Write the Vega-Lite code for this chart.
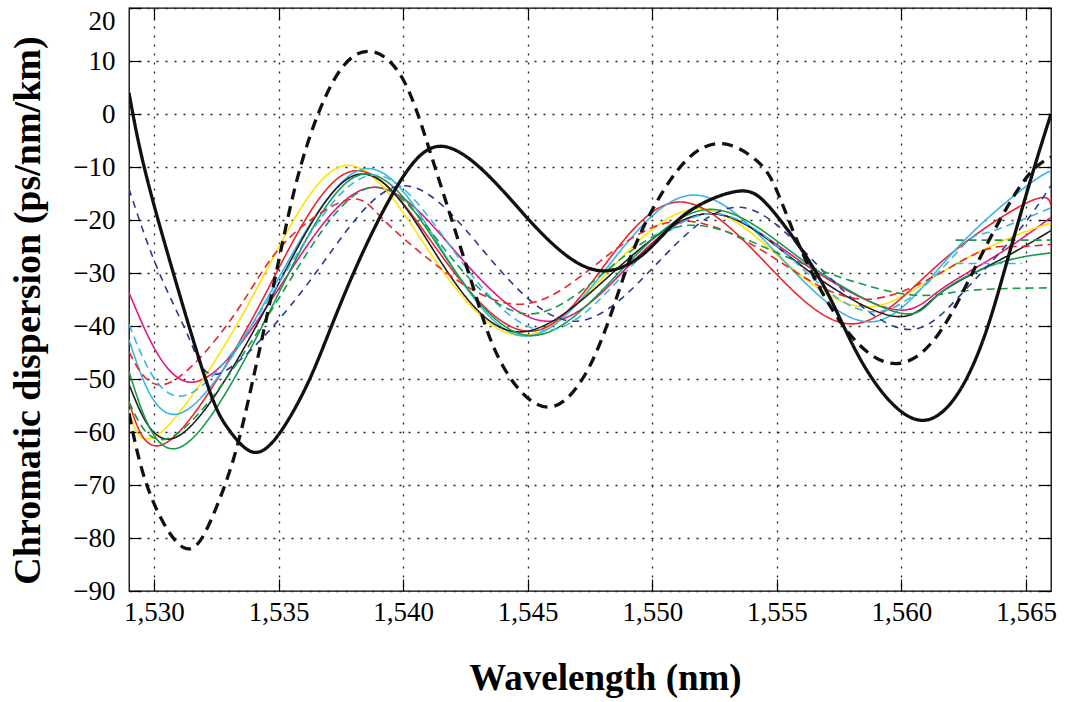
{
  "$schema": "https://vega.github.io/schema/vega-lite/v6.json",
  "width": 922,
  "height": 583,
  "autosize": {"type": "none"},
  "padding": {"left": 129, "top": 8, "right": 19, "bottom": 111},
  "background": "white",
  "config": {
    "view": {"stroke": "#000", "strokeWidth": 1.3},
    "font": "Liberation Serif"
  },
  "datasets": {
    "thin": [
      {"s":"magenta","x":1529.0,"y":-33.7},{"s":"magenta","x":1531.55,"y":-50.6},{"s":"magenta","x":1535.1,"y":-32.3},{"s":"magenta","x":1538.66,"y":-13.9},{"s":"magenta","x":1542.2,"y":-26.5},{"s":"magenta","x":1545.74,"y":-39.1},{"s":"magenta","x":1549.0,"y":-28.9},{"s":"magenta","x":1552.28,"y":-18.8},{"s":"magenta","x":1555.95,"y":-27.8},{"s":"magenta","x":1559.62,"y":-36.8},{"s":"magenta","x":1561.5,"y":-33.4},{"s":"magenta","x":1563.8,"y":-26.7},{"s":"magenta","x":1566.0,"y":-19.5},
      {"s":"yellow","x":1529.0,"y":-55.8},{"s":"yellow","x":1530.3,"y":-60.0},{"s":"yellow","x":1533.95,"y":-34.5},{"s":"yellow","x":1537.59,"y":-9.8},{"s":"yellow","x":1541.13,"y":-26.5},{"s":"yellow","x":1544.67,"y":-41.8},{"s":"yellow","x":1548.2,"y":-29.9},{"s":"yellow","x":1551.75,"y":-17.9},{"s":"yellow","x":1555.15,"y":-27.2},{"s":"yellow","x":1558.56,"y":-36.4},{"s":"yellow","x":1562.0,"y":-28.8},{"s":"yellow","x":1565.5,"y":-21.3},{"s":"yellow","x":1566.0,"y":-21.4},
      {"s":"red","x":1529.0,"y":-54.3},{"s":"red","x":1530.57,"y":-61.8},{"s":"red","x":1534.2,"y":-36.4},{"s":"red","x":1537.86,"y":-10.9},{"s":"red","x":1541.43,"y":-26.0},{"s":"red","x":1545.0,"y":-41.0},{"s":"red","x":1548.04,"y":-28.8},{"s":"red","x":1551.08,"y":-16.6},{"s":"red","x":1554.55,"y":-28.1},{"s":"red","x":1558.03,"y":-39.6},{"s":"red","x":1561.55,"y":-28.1},{"s":"red","x":1565.1,"y":-16.6},{"s":"red","x":1566.0,"y":-17.2},
      {"s":"cyan","x":1529.0,"y":-42.6},{"s":"cyan","x":1531.04,"y":-56.5},{"s":"cyan","x":1534.7,"y":-33.5},{"s":"cyan","x":1538.39,"y":-10.4},{"s":"cyan","x":1541.63,"y":-26.2},{"s":"cyan","x":1544.87,"y":-41.9},{"s":"cyan","x":1548.25,"y":-28.6},{"s":"cyan","x":1551.62,"y":-15.3},{"s":"cyan","x":1555.2,"y":-27.3},{"s":"cyan","x":1558.83,"y":-39.2},{"s":"cyan","x":1562.17,"y":-25.6},{"s":"cyan","x":1565.5,"y":-12.0},{"s":"cyan","x":1566.0,"y":-12.1},
      {"s":"black","x":1529.0,"y":-51.0},{"s":"black","x":1530.97,"y":-60.8},{"s":"black","x":1534.55,"y":-36.1},{"s":"black","x":1538.1,"y":-11.5},{"s":"black","x":1541.3,"y":-26.3},{"s":"black","x":1544.54,"y":-41.1},{"s":"black","x":1548.4,"y":-30.0},{"s":"black","x":1552.28,"y":-18.8},{"s":"black","x":1555.95,"y":-28.5},{"s":"black","x":1559.62,"y":-38.1},{"s":"black","x":1561.5,"y":-34.0},{"s":"black","x":1563.8,"y":-27.9},{"s":"black","x":1566.0,"y":-22.0},
      {"s":"green","x":1529.0,"y":-48.6},{"s":"green","x":1531.04,"y":-62.9},{"s":"green","x":1534.65,"y":-37.2},{"s":"green","x":1538.26,"y":-11.5},{"s":"green","x":1541.66,"y":-26.7},{"s":"green","x":1545.07,"y":-41.8},{"s":"green","x":1548.67,"y":-29.9},{"s":"green","x":1552.28,"y":-18.0},{"s":"green","x":1556.1,"y":-27.8},{"s":"green","x":1559.9,"y":-37.5},{"s":"green","x":1561.5,"y":-34.0},{"s":"green","x":1563.78,"y":-28.3},{"s":"green","x":1566.0,"y":-26.2},
      {"s":"darkblue","x":1529.0,"y":-14.1},{"s":"darkblue","x":1530.17,"y":-29.5},{"s":"darkblue","x":1531.5,"y":-43.3},{"s":"darkblue","x":1532.85,"y":-48.5},{"s":"darkblue","x":1536.35,"y":-30.9},{"s":"darkblue","x":1539.86,"y":-13.6},{"s":"darkblue","x":1543.33,"y":-26.4},{"s":"darkblue","x":1546.8,"y":-39.1},{"s":"darkblue","x":1550.15,"y":-28.4},{"s":"darkblue","x":1553.49,"y":-17.6},{"s":"darkblue","x":1556.75,"y":-29.1},{"s":"darkblue","x":1560.0,"y":-40.5},{"s":"darkblue","x":1562.3,"y":-34.5},{"s":"darkblue","x":1564.6,"y":-22.6},{"s":"darkblue","x":1566.0,"y":-13.5},
      {"s":"reddash","x":1529.0,"y":-44.9},{"s":"reddash","x":1530.57,"y":-50.8},{"s":"reddash","x":1533.25,"y":-37.7},{"s":"reddash","x":1535.2,"y":-24.5},{"s":"reddash","x":1537.7,"y":-16.3},{"s":"reddash","x":1539.1,"y":-19.4},{"s":"reddash","x":1541.33,"y":-28.5},{"s":"reddash","x":1544.67,"y":-35.9},{"s":"reddash","x":1547.9,"y":-27.8},{"s":"reddash","x":1551.2,"y":-20.2},{"s":"reddash","x":1555.0,"y":-27.5},{"s":"reddash","x":1558.8,"y":-34.9},{"s":"reddash","x":1562.7,"y":-27.0},{"s":"reddash","x":1564.5,"y":-25.0},{"s":"reddash","x":1566.0,"y":-24.6},
      {"s":"cyandash","x":1529.0,"y":-39.7},{"s":"cyandash","x":1531.24,"y":-53.1},{"s":"cyandash","x":1534.95,"y":-32.4},{"s":"cyandash","x":1538.66,"y":-11.6},{"s":"cyandash","x":1542.1,"y":-26.3},{"s":"cyandash","x":1545.6,"y":-40.8},{"s":"cyandash","x":1548.95,"y":-29.8},{"s":"cyandash","x":1552.3,"y":-18.8},{"s":"cyandash","x":1555.75,"y":-28.0},{"s":"cyandash","x":1559.2,"y":-37.2},{"s":"cyandash","x":1562.3,"y":-25.7},{"s":"cyandash","x":1563.5,"y":-22.3},{"s":"cyandash","x":1566.0,"y":-17.7},
      {"s":"greendash","x":1529.0,"y":-54.3},{"s":"greendash","x":1530.84,"y":-60.6},{"s":"greendash","x":1534.68,"y":-37.3},{"s":"greendash","x":1538.52,"y":-14.1},{"s":"greendash","x":1541.73,"y":-25.9},{"s":"greendash","x":1544.94,"y":-37.7},{"s":"greendash","x":1548.2,"y":-29.4},{"s":"greendash","x":1551.47,"y":-21.0},{"s":"greendash","x":1555.4,"y":-27.0},{"s":"greendash","x":1559.9,"y":-33.8},{"s":"greendash","x":1562.5,"y":-33.4},{"s":"greendash","x":1566.0,"y":-32.8},
      {"s":"seg1","x":1562.17,"y":-23.8},{"s":"seg1","x":1566.0,"y":-23.8},
      {"s":"seg2","x":1562.17,"y":-28.2},{"s":"seg2","x":1564.84,"y":-28.2}
    ],
    "thick": [
      {"s":"thick","x":1529.0,"y":4.0},{"s":"thick","x":1529.64,"y":-10.6},{"s":"thick","x":1530.84,"y":-31.0},{"s":"thick","x":1532.18,"y":-51.5},{"s":"thick","x":1533.0,"y":-59.5},{"s":"thick","x":1533.98,"y":-63.8},{"s":"thick","x":1535.0,"y":-60.5},{"s":"thick","x":1536.0,"y":-52.5},{"s":"thick","x":1536.85,"y":-43.3},{"s":"thick","x":1538.2,"y":-28.0},{"s":"thick","x":1539.99,"y":-11.9},{"s":"thick","x":1541.58,"y":-6.1},{"s":"thick","x":1543.33,"y":-11.2},{"s":"thick","x":1544.94,"y":-19.4},{"s":"thick","x":1546.5,"y":-26.5},{"s":"thick","x":1548.1,"y":-29.6},{"s":"thick","x":1549.75,"y":-26.0},{"s":"thick","x":1551.35,"y":-18.8},{"s":"thick","x":1553.4,"y":-14.6},{"s":"thick","x":1554.82,"y":-18.2},{"s":"thick","x":1556.83,"y":-32.0},{"s":"thick","x":1558.5,"y":-47.5},{"s":"thick","x":1560.8,"y":-57.8},{"s":"thick","x":1562.84,"y":-47.7},{"s":"thick","x":1564.17,"y":-28.9},{"s":"thick","x":1565.24,"y":-11.5},{"s":"thick","x":1566.0,"y":0.0},
      {"s":"thickdash","x":1529.0,"y":-56.5},{"s":"thickdash","x":1529.83,"y":-71.5},{"s":"thickdash","x":1531.23,"y":-81.9},{"s":"thickdash","x":1532.3,"y":-76.5},{"s":"thickdash","x":1533.2,"y":-65.0},{"s":"thickdash","x":1533.97,"y":-50.2},{"s":"thickdash","x":1534.9,"y":-30.1},{"s":"thickdash","x":1535.91,"y":-9.5},{"s":"thickdash","x":1537.3,"y":7.0},{"s":"thickdash","x":1538.7,"y":11.8},{"s":"thickdash","x":1540.0,"y":6.5},{"s":"thickdash","x":1541.06,"y":-6.8},{"s":"thickdash","x":1542.13,"y":-22.6},{"s":"thickdash","x":1543.0,"y":-35.5},{"s":"thickdash","x":1544.0,"y":-47.5},{"s":"thickdash","x":1545.79,"y":-55.3},{"s":"thickdash","x":1547.6,"y":-46.5},{"s":"thickdash","x":1548.94,"y":-29.5},{"s":"thickdash","x":1550.01,"y":-18.0},{"s":"thickdash","x":1551.35,"y":-8.8},{"s":"thickdash","x":1552.82,"y":-5.6},{"s":"thickdash","x":1554.16,"y":-8.7},{"s":"thickdash","x":1555.0,"y":-14.5},{"s":"thickdash","x":1556.16,"y":-27.6},{"s":"thickdash","x":1557.9,"y":-41.4},{"s":"thickdash","x":1559.77,"y":-47.1},{"s":"thickdash","x":1561.5,"y":-41.4},{"s":"thickdash","x":1563.1,"y":-27.6},{"s":"thickdash","x":1564.84,"y":-13.1},{"s":"thickdash","x":1566.0,"y":-8.1}
    ]
  },
  "layer": [
    {
      "data": {"name": "thin"},
      "mark": {"type": "line", "interpolate": "natural", "strokeWidth": 1.6, "clip": true},
      "encoding": {
        "x": {"field": "x", "type": "quantitative", "scale": {"domain": [1529, 1566], "nice": false, "zero": false},
          "axis": {"orient": "bottom", "values": [1530,1535,1540,1545,1550,1555,1560,1565], "format": ",d", "grid": true, "gridDash": [2,7], "gridColor": "#222", "gridWidth": 1.3, "tickSize": -12, "tickColor": "#000", "tickWidth": 1.2, "domain": false, "labelFont": "Liberation Serif", "labelFontSize": 27, "labelColor": "#000", "labelPadding": 20, "labelFlush": false, "title": "Wavelength (nm)", "titleFont": "Liberation Serif", "titleFontSize": 37, "titleFontWeight": "bold", "titleColor": "#000", "titleX": 476, "titleY": 87, "titleBaseline": "middle"}},
        "y": {"field": "y", "type": "quantitative", "scale": {"domain": [-90, 20], "nice": false, "zero": false},
          "axis": {"orient": "left", "values": [-90,-80,-70,-60,-50,-40,-30,-20,-10,0,10,20], "grid": true, "gridDash": [2,7], "gridColor": "#222", "gridWidth": 1.3, "tickSize": -12, "tickColor": "#000", "tickWidth": 1.2, "domain": false, "labelFont": "Liberation Serif", "labelFontSize": 27, "labelColor": "#000", "labelPadding": 26, "labelFlush": false,
            "labelBaseline": {"condition": {"test": "datum.value == 20", "value": "top"}, "value": "middle"},
            "title": "Chromatic dispersion (ps/nm/km)", "titleFont": "Liberation Serif", "titleFontSize": 38, "titleFontWeight": "bold", "titleColor": "#000", "titleX": -101, "titleY": 302, "titleBaseline": "middle", "titleAngle": 270}},
        "color": {"field": "s", "type": "nominal", "legend": null,
          "scale": {"domain": ["yellow","red","cyan","black","green","magenta","darkblue","reddash","cyandash","greendash","seg1","seg2","thick","thickdash"],
                    "range": ["#ffe400","#e8262d","#3cb4e5","#1f1f1f","#169b48","#e0187e","#2b3990","#e8262d","#3cb4e5","#169b48","#169b48","#3cb4e5","#111111","#111111"]}},
        "strokeDash": {"field": "s", "type": "nominal", "legend": null,
          "scale": {"domain": ["yellow","red","cyan","black","green","magenta","darkblue","reddash","cyandash","greendash","seg1","seg2","thick","thickdash"],
                    "range": [[1,0],[1,0],[1,0],[1,0],[1,0],[1,0],[7,6],[8,5],[8,5],[8,5],[8,5],[8,5],[1,0],[11,7]]}}
      }
    },
    {
      "data": {"name": "thick"},
      "mark": {"type": "line", "interpolate": "natural", "strokeWidth": 3.3, "clip": true},
      "encoding": {
        "x": {"field": "x", "type": "quantitative", "scale": {"domain": [1529, 1566], "nice": false, "zero": false},
          "axis": {"orient": "top", "values": [1530,1535,1540,1545,1550,1555,1560,1565], "grid": false, "tickSize": -12, "tickColor": "#000", "tickWidth": 1.2, "domain": false, "labels": false, "title": null}},
        "y": {"field": "y", "type": "quantitative", "scale": {"domain": [-90, 20], "nice": false, "zero": false},
          "axis": {"orient": "right", "values": [-90,-80,-70,-60,-50,-40,-30,-20,-10,0,10,20], "grid": false, "tickSize": -12, "tickColor": "#000", "tickWidth": 1.2, "domain": false, "labels": false, "title": null}},
        "color": {"field": "s", "type": "nominal", "legend": null,
          "scale": {"domain": ["yellow","red","cyan","black","green","magenta","darkblue","reddash","cyandash","greendash","seg1","seg2","thick","thickdash"],
                    "range": ["#ffe400","#e8262d","#3cb4e5","#1f1f1f","#169b48","#e0187e","#2b3990","#e8262d","#3cb4e5","#169b48","#169b48","#3cb4e5","#111111","#111111"]}},
        "strokeDash": {"field": "s", "type": "nominal", "legend": null,
          "scale": {"domain": ["yellow","red","cyan","black","green","magenta","darkblue","reddash","cyandash","greendash","seg1","seg2","thick","thickdash"],
                    "range": [[1,0],[1,0],[1,0],[1,0],[1,0],[1,0],[7,6],[8,5],[8,5],[8,5],[8,5],[8,5],[1,0],[11,7]]}}
      }
    }
  ],
  "resolve": {"axis": {"x": "independent", "y": "independent"}}
}
